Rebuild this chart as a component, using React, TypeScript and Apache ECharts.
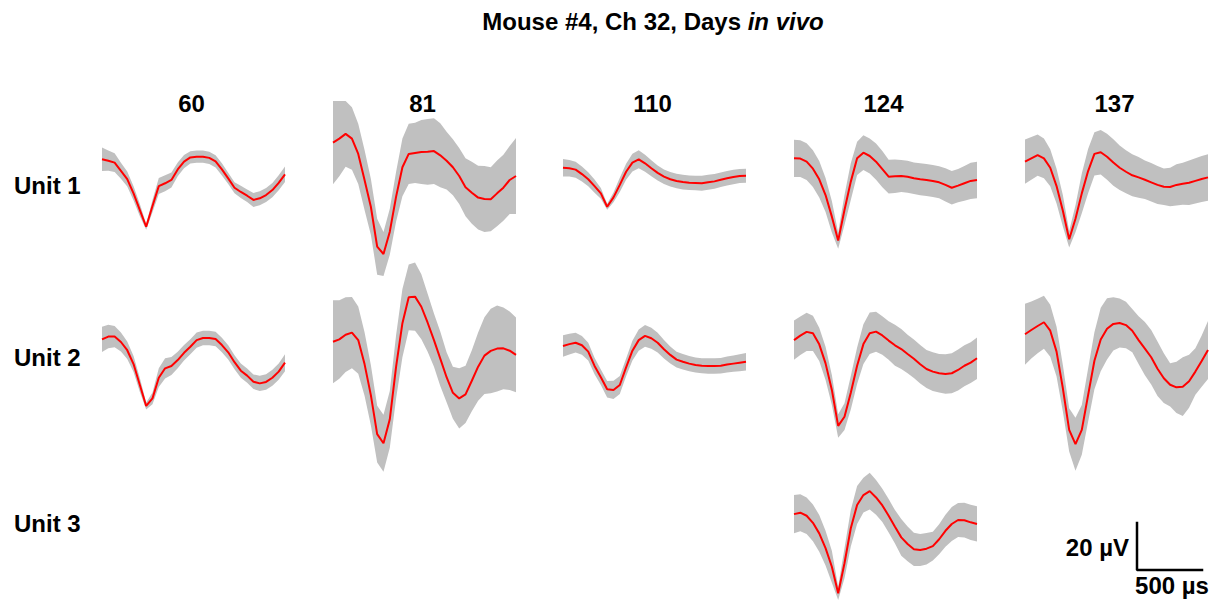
import React, { useEffect, useRef } from "react";
import * as echarts from "echarts";

// ---- labels ----
const DAYS = ["60", "81", "110", "124", "137"];
const UNITS = ["Unit 1", "Unit 2", "Unit 3"];
const SAMPLES = ["0","1","2","3","4","5","6","7","8","9","10","11","12","13","14","15","16","17","18","19","20","21","22","23","24","25","26","27","28","29"];

// ---- waveform means (µV) and SD (µV) ----
const u1d60Mean = [0.3,-0.3,-1.1,-4.6,-8.1,-14.2,-21.3,-28.4,-19.6,-11.1,-9.9,-8.5,-4.0,-0.7,1.1,1.4,1.4,0.9,-0.6,-4.0,-7.8,-11.8,-13.6,-15.2,-17.0,-16.3,-14.9,-12.8,-9.7,-6.1];
const u1d60Sd = [5.0,4.3,4.0,3.4,3.2,3.0,2.6,1.3,2.6,3.4,3.4,3.2,2.9,2.8,2.6,2.6,2.6,2.6,2.6,2.6,2.4,2.3,2.6,2.7,3.0,3.0,3.0,3.0,3.2,3.3];

const u1d81Mean = [7.4,9.1,11.1,9.1,2.6,-8.5,-19.9,-36.9,-40.0,-30.5,-15.6,-3.1,2.6,3.0,3.4,3.5,3.8,2.0,-0.3,-3.1,-6.8,-11.6,-13.9,-16.0,-16.6,-16.7,-14.2,-11.8,-8.5,-6.8];
const u1d81Sd = [17.7,16.0,14.0,13.3,12.8,12.8,11.9,11.9,9.4,9.8,10.6,12.3,12.8,12.8,13.6,14.0,14.0,13.6,12.3,11.9,11.9,12.3,13.2,13.6,14.0,13.6,14.0,14.0,14.5,16.2];

const u1d110Mean = [-3.3,-3.5,-4.1,-6.0,-8.2,-11.1,-14.2,-19.9,-15.9,-10.6,-5.0,-1.1,0.3,-1.4,-3.5,-5.5,-7.1,-8.2,-8.9,-9.4,-9.7,-9.8,-9.9,-9.5,-9.1,-8.4,-7.8,-7.2,-6.8,-6.7];
const u1d110Sd = [3.7,3.5,3.4,3.2,3.0,2.8,2.3,1.3,2.1,3.0,3.4,3.8,3.8,3.6,3.4,3.2,3.1,3.1,3.1,3.1,3.1,3.1,3.2,3.2,3.1,3.1,3.1,3.1,3.0,3.0];

const u1d124Mean = [0.7,0.6,-0.7,-3.7,-8.2,-14.9,-24.1,-34.3,-21.3,-9.2,0.7,3.1,1.7,-0.7,-3.9,-7.1,-6.9,-6.8,-7.1,-7.8,-8.2,-8.5,-8.9,-9.5,-10.6,-11.8,-10.9,-9.9,-8.9,-8.5];
const u1d124Sd = [7.9,7.8,7.8,7.8,7.8,7.2,6.7,3.5,6.4,7.8,7.1,7.4,7.4,7.7,7.7,7.2,7.1,6.8,6.8,6.7,6.8,6.8,6.8,6.8,7.1,7.1,7.1,7.4,7.7,7.8];

const u1d137Mean = [-0.7,0.7,2.1,0.7,-3.3,-11.1,-21.6,-33.7,-25.0,-14.2,-4.7,2.6,3.3,1.4,-1.1,-3.3,-5.0,-6.5,-7.4,-8.4,-9.5,-10.6,-11.4,-11.5,-10.6,-10.1,-9.7,-8.9,-8.1,-7.4];
const u1d137Sd = [9.4,9.1,8.8,8.5,7.9,7.4,6.7,3.5,5.7,8.5,9.4,9.2,9.5,9.8,9.9,9.5,9.2,8.9,8.7,8.2,8.2,8.1,7.8,8.2,8.8,8.9,9.5,9.6,9.8,9.9];

const u2d60Mean = [-0.6,0.6,0.6,-1.7,-5.2,-11.1,-20.0,-28.9,-25.7,-16.9,-12.9,-11.9,-9.4,-6.3,-3.7,-0.9,0,0,-0.4,-3.0,-6.1,-10.3,-13.9,-16.0,-18.6,-19.3,-18.7,-16.9,-14.3,-10.5];
const u2d60Sd = [5.4,5.0,4.5,4.0,3.7,3.4,3.0,1.5,2.5,4.0,4.3,3.8,3.5,3.3,3.2,3.2,3.1,3.1,3.1,3.1,3.0,3.0,3.0,3.0,3.1,3.2,3.3,3.4,3.5,3.6];

const u2d81Mean = [-1.6,-0.6,1.4,2.3,-0.9,-11.1,-24.3,-40.9,-44.8,-34.6,-12.2,6.3,17.3,17.6,13.3,6.5,-0.9,-8.8,-16.7,-23.3,-25.7,-24.0,-18.2,-12.2,-7.5,-5.5,-4.5,-4.4,-5.4,-7.2];
const u2d81Sd = [17.7,16.7,15.9,15.2,14.3,13.5,12.8,12.1,12.1,12.1,13.5,14.5,14.0,14.5,13.8,12.3,11.3,11.6,10.6,11.1,12.8,12.2,13.0,14.5,16.3,18.0,18.3,17.4,16.7,15.9];

const u2d110Mean = [-3.4,-2.6,-2.0,-3.1,-5.8,-11.9,-16.7,-21.8,-22.1,-20.0,-12.5,-5.4,-0.9,0.9,-0.1,-2.0,-4.8,-7.2,-9.2,-10.1,-10.9,-11.5,-11.8,-11.9,-11.9,-11.8,-11.3,-10.9,-10.5,-10.1];
const u2d110Sd = [4.6,4.4,4.2,4.0,3.8,3.5,3.3,3.5,3.9,3.8,3.8,4.2,4.5,4.6,4.5,4.2,3.9,3.6,3.4,3.3,3.2,3.2,3.2,3.3,3.3,3.3,3.4,3.5,3.6,3.7];

const u2d124Mean = [-0.9,1.0,2.6,2.0,-2.7,-10.8,-22.1,-37.4,-33.5,-23.3,-11.8,-2.6,2.0,2.7,1.1,-1.1,-3.1,-4.7,-6.8,-8.8,-11.2,-13.2,-14.3,-15.0,-15.3,-15.0,-13.6,-11.8,-10.5,-8.6];
const u2d124Sd = [8.4,8.2,8.1,7.5,7.1,7.1,6.4,5.0,5.7,7.1,7.8,8.5,8.8,8.5,8.2,8.2,8.7,8.5,8.2,8.2,8.2,8.1,8.2,8.2,8.4,8.5,8.7,8.7,8.7,8.8];

const u2d137Mean = [1.6,3.4,5.1,6.7,3.1,-5.8,-21.4,-39.1,-45.2,-39.1,-24.3,-9.7,-0.6,3.9,6.0,6.4,5.5,3.1,-0.9,-4.5,-8.2,-13.1,-17.1,-19.9,-21.0,-20.7,-18.4,-14.3,-9.8,-5.1];
const u2d137Sd = [13.0,12.1,11.6,11.3,11.1,10.6,9.9,9.2,11.3,10.6,11.3,12.1,13.5,13.0,11.3,10.4,9.9,9.2,10.2,11.3,11.6,11.6,10.6,9.2,10.9,12.5,11.3,9.9,10.9,12.3];

const u3d124Mean = [-0.9,-0.3,-1.6,-4.6,-9.1,-15.4,-23.3,-34.6,-21.8,-6.9,3.0,7.2,8.9,6.2,2.8,-1.6,-6.3,-10.8,-13.6,-15.9,-16.2,-15.6,-14.5,-11.6,-8.0,-5.1,-3.4,-3.5,-4.4,-5.1];
const u3d124Sd = [8.1,7.9,7.8,7.8,7.8,7.4,6.8,2.8,6.4,7.8,8.1,7.4,7.8,7.4,7.1,7.1,7.1,7.8,7.4,7.1,6.8,6.7,6.1,6.4,6.8,7.2,7.2,7.4,7.5,7.5];

// scale bar values
const SCALE_UV = 20;
const SCALE_US = 500;

// ---- layout ----
const COL_LEFT = [102, 333, 563, 794, 1025];
const PANEL_W = 183;
const ROW_ZERO = [160, 338, 512];
const ROW_YMIN = [-70, -70, -36];
const PX_PER_UV = 47 / 20;
const PX_PER_US = 65 / 500;
const Y_MAX = 40;
const FONT = "'Liberation Sans', Arial, Helvetica, sans-serif";
const FS = 24;

const PANELS = [
  { unit: 0, day: 0, mean: u1d60Mean, sd: u1d60Sd },
  { unit: 0, day: 1, mean: u1d81Mean, sd: u1d81Sd },
  { unit: 0, day: 2, mean: u1d110Mean, sd: u1d110Sd },
  { unit: 0, day: 3, mean: u1d124Mean, sd: u1d124Sd },
  { unit: 0, day: 4, mean: u1d137Mean, sd: u1d137Sd },
  { unit: 1, day: 0, mean: u2d60Mean, sd: u2d60Sd },
  { unit: 1, day: 1, mean: u2d81Mean, sd: u2d81Sd },
  { unit: 1, day: 2, mean: u2d110Mean, sd: u2d110Sd },
  { unit: 1, day: 3, mean: u2d124Mean, sd: u2d124Sd },
  { unit: 1, day: 4, mean: u2d137Mean, sd: u2d137Sd },
  { unit: 2, day: 3, mean: u3d124Mean, sd: u3d124Sd },
];

function buildOption() {
  const grid: any[] = [];
  const xAxis: any[] = [];
  const yAxis: any[] = [];
  const series: any[] = [];

  PANELS.forEach((p, i) => {
    const yMin = ROW_YMIN[p.unit];
    grid.push({
      left: COL_LEFT[p.day],
      width: PANEL_W,
      top: ROW_ZERO[p.unit] - Y_MAX * PX_PER_UV,
      height: (Y_MAX - yMin) * PX_PER_UV,
      containLabel: false,
    });
    xAxis.push({ type: "category", gridIndex: i, data: SAMPLES, boundaryGap: false, show: false });
    yAxis.push({ type: "value", gridIndex: i, min: yMin, max: Y_MAX, show: false, splitLine: { show: false } });
    const lower = p.mean.map((m, j) => +(m - p.sd[j]).toFixed(2));
    const width = p.sd.map((s) => +(2 * s).toFixed(2));
    series.push({
      type: "line", xAxisIndex: i, yAxisIndex: i, data: lower,
      stack: "band" + i, stackStrategy: "all", symbol: "none",
      lineStyle: { opacity: 0 }, silent: true, clip: false, z: 1,
    });
    series.push({
      type: "line", xAxisIndex: i, yAxisIndex: i, data: width,
      stack: "band" + i, stackStrategy: "all", symbol: "none",
      lineStyle: { opacity: 0 }, areaStyle: { color: "#c0c0c0", opacity: 1 },
      silent: true, clip: false, z: 1,
    });
    series.push({
      type: "line", xAxisIndex: i, yAxisIndex: i, data: p.mean, symbol: "none",
      lineStyle: { color: "#ff0000", width: 2 }, silent: true, clip: false, z: 3,
    });
  });

  // scale bar grid
  const si = PANELS.length;
  grid.push({ left: 1137, top: 523, width: SCALE_US * PX_PER_US, height: SCALE_UV * PX_PER_UV });
  xAxis.push({ type: "value", gridIndex: si, min: 0, max: SCALE_US, show: false });
  yAxis.push({ type: "value", gridIndex: si, min: 0, max: SCALE_UV, show: false, splitLine: { show: false } });
  series.push({
    type: "line", xAxisIndex: si, yAxisIndex: si,
    data: [[0, SCALE_UV], [0, 0], [SCALE_US, 0]], symbol: "none",
    lineStyle: { color: "#000", width: 2.5, cap: "square" }, silent: true, clip: false,
  });

  const txt = (text: string, x: number, y: number, align = "center") => ({
    type: "text", x, y, silent: true,
    style: { text, x: 0, y: 0, align, verticalAlign: "middle", fill: "#000", font: `bold ${FS}px ${FONT}` },
  });

  const graphic: any[] = [
    {
      type: "text", x: 653, y: 21, silent: true,
      style: {
        text: "{n|Mouse #4, Ch 32, Days }{i|in vivo}",
        align: "center", verticalAlign: "middle",
        rich: {
          n: { fontFamily: FONT, fontSize: FS, fontWeight: "bold", fill: "#000" },
          i: { fontFamily: FONT, fontSize: FS, fontWeight: "bold", fontStyle: "italic", fill: "#000" },
        },
      },
    },
  ];
  DAYS.forEach((d, c) => graphic.push(txt(d, COL_LEFT[c] + PANEL_W / 2 - 2, 103)));
  const unitY = [185, 357, 523];
  UNITS.forEach((u, r) => graphic.push(txt(u, 14, unitY[r], "left")));
  graphic.push(txt(`${SCALE_UV} µV`, 1129, 547, "right"));
  graphic.push(txt(`${SCALE_US} µs`, 1172, 585, "center"));

  return { animation: false, backgroundColor: "#ffffff", grid, xAxis, yAxis, series, graphic };
}

export default function App() {
  const ref = useRef<HTMLDivElement>(null);
  useEffect(() => {
    if (!ref.current) return;
    const chart = echarts.init(ref.current, undefined, { renderer: "svg" });
    chart.setOption(buildOption() as any);
    return () => chart.dispose();
  }, []);
  return (
    <div
      ref={ref}
      style={{ position: "fixed", left: 0, top: 0, width: 1221, height: 601, background: "#fff" }}
    />
  );
}
